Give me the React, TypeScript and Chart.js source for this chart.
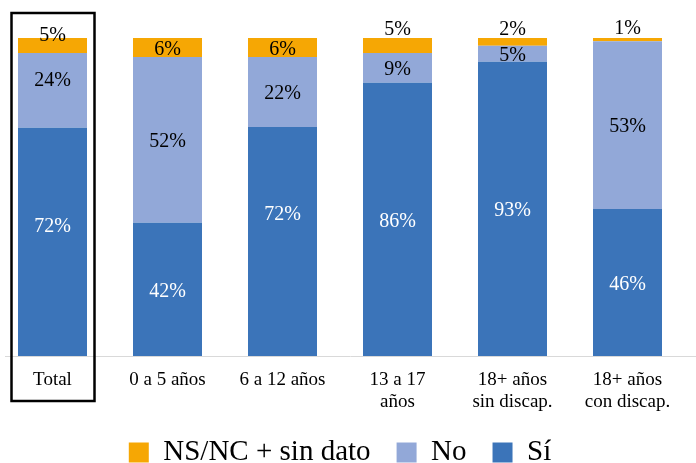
import React, { useEffect, useRef } from "react";
import { Chart, registerables } from "chart.js";

Chart.register(...registerables);

const categories: string[][] = [
  ["Total"],
  ["0 a 5 años"],
  ["6 a 12 años"],
  ["13 a 17", "años"],
  ["18+ años", "sin discap."],
  ["18+ años", "con discap."],
];
const siValues = [71.8, 41.9, 72.0, 85.9, 92.5, 46.2];
const noValues = [23.5, 52.1, 22.0, 9.4, 5.1, 52.8];
const nsValues = [4.7, 6.0, 6.0, 4.7, 2.4, 1.3];

const seriesNames = ["Sí", "No", "NS/NC + sin dato"];
const COLORS = ["#3B74B9", "#92A8D8", "#F6A704"];
const FONT = '"Liberation Serif", "Times New Roman", serif';

const CANVAS_W = 701;
const CANVAS_H = 477;

// label placement tweaks (px), per dataset index -> category index
const labelNudge: Record<number, Record<number, number>> = {
  0: { 0: -17, 2: -29 },
  1: { 0: -12 },
  2: { 0: 6 },
};

const valueLabels = {
  id: "valueLabels",
  afterDatasetsDraw(chart: any) {
    const ctx = chart.ctx;
    ctx.save();
    ctx.font = `20px ${FONT}`;
    ctx.textAlign = "center";
    ctx.textBaseline = "middle";
    chart.data.datasets.forEach((ds: any, di: number) => {
      const meta = chart.getDatasetMeta(di);
      meta.data.forEach((bar: any, j: number) => {
        const v = ds.data[j] as number;
        const top = Math.min(bar.y, bar.base);
        const bottom = Math.max(bar.y, bar.base);
        let y = (top + bottom) / 2 + 2;
        if (di === 2 && bottom - top < 17) y = top - 8;
        y += labelNudge[di]?.[j] ?? 0;
        ctx.fillStyle = di === 0 ? "#ffffff" : "#000000";
        ctx.fillText(Math.round(v) + "%", bar.x, y);
      });
    });
    ctx.restore();
  },
};

const decorations = {
  id: "decorations",
  beforeDatasetsDraw(chart: any) {
    const ctx = chart.ctx;
    const y = Math.round(chart.chartArea.bottom) + 0.5;
    ctx.save();
    ctx.strokeStyle = "#d9d9d9";
    ctx.lineWidth = 1;
    ctx.beginPath();
    ctx.moveTo(10, y);
    ctx.lineTo(chart.width, y);
    ctx.stroke();
    ctx.restore();
  },
  afterDraw(chart: any) {
    const ctx = chart.ctx;
    const x0 = chart.scales.x.getPixelForValue(0);
    const top = chart.chartArea.top - 25;
    const bottom = chart.chartArea.bottom + 45;
    ctx.save();
    ctx.strokeStyle = "#000";
    ctx.lineWidth = 2.5;
    ctx.strokeRect(x0 - 41, top, 83, bottom - top);
    ctx.restore();
  },
};

export default function App() {
  const ref = useRef<HTMLCanvasElement | null>(null);

  useEffect(() => {
    if (!ref.current) return;
    const data = [siValues, noValues, nsValues];
    const chart = new Chart(ref.current, {
      type: "bar",
      data: {
        labels: categories as any,
        datasets: data.map((d, i) => ({
          label: seriesNames[i],
          data: d,
          backgroundColor: COLORS[i],
          borderWidth: 0,
          categoryPercentage: 1,
          barPercentage: 0.6,
        })),
      },
      options: {
        responsive: false,
        animation: false,
        devicePixelRatio: 1,
        layout: { padding: { top: 38, left: 0, right: 11, bottom: 0 } },
        plugins: {
          legend: {
            position: "bottom",
            reverse: true,
            labels: {
              boxWidth: 20,
              boxHeight: 20,
              padding: 26,
              color: "#000",
              font: { family: FONT, size: 29 },
            },
          },
          tooltip: { enabled: false },
        },
        scales: {
          x: {
            stacked: true,
            grid: { display: false, drawTicks: false },
            border: { display: false },
            ticks: {
              color: "#000",
              padding: 13,
              maxRotation: 0,
              autoSkip: false,
              font: { family: FONT, size: 19, lineHeight: 1.15 },
            },
            afterFit: (scale: any) => {
              scale.height = 56;
            },
          },
          y: {
            stacked: true,
            display: false,
            min: 0,
            max: 100,
          },
        },
      },
      plugins: [decorations, valueLabels],
    });
    return () => chart.destroy();
  }, []);

  return (
    <div
      style={{
        position: "fixed",
        left: 0,
        top: 0,
        width: 696,
        height: 463,
        overflow: "hidden",
        background: "#fff",
      }}
    >
      <canvas
        ref={ref}
        width={CANVAS_W}
        height={CANVAS_H}
        style={{
          position: "absolute",
          left: -5,
          top: 0,
          width: CANVAS_W,
          height: CANVAS_H,
        }}
      />
    </div>
  );
}
